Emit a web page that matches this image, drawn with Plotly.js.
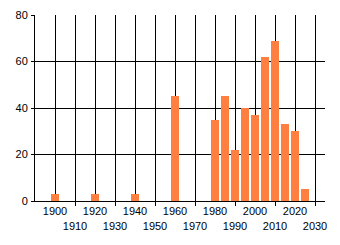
<!DOCTYPE html>
<html>
<head>
<meta charset="utf-8">
<script src="https://cdn.plot.ly/plotly-3.0.1.min.js"></script>
<style>html,body{margin:0;padding:0;background:#fff;}#chart{width:340px;height:245px;}</style>
</head>
<body>
<div id="chart"></div>
<script>
const years = [1900, 1920, 1940, 1960, 1980, 1985, 1990, 1995, 2000, 2005, 2010, 2015, 2020, 2025];
const values = [3, 3, 3, 45, 35, 45, 22, 40, 37, 62, 69, 33, 30, 5];
const upperTicks = [1900, 1920, 1940, 1960, 1980, 2000, 2020];
const lowerTicks = [1910, 1930, 1950, 1970, 1990, 2010, 2030];
const gridTicks = upperTicks.concat(lowerTicks).sort((a, b) => a - b);
const yTicks = [0, 20, 40, 60, 80];

const font = {family: 'Liberation Sans, Arial, sans-serif', size: 11, color: '#000'};

const data = [
  {type: 'bar', x: years, y: values, width: 4, marker: {color: '#ff7f40', line: {width: 0}}, hoverinfo: 'x+y'},
  {type: 'scatter', mode: 'markers', x: [lowerTicks[0]], y: [0], xaxis: 'x2', yaxis: 'y', marker: {opacity: 0}, hoverinfo: 'skip', showlegend: false}
];

const layout = {
  width: 340, height: 245,
  margin: {l: 35, r: 15, t: 15, b: 44},
  paper_bgcolor: '#fff', plot_bgcolor: '#fff',
  showlegend: false,
  font: font,
  bargap: 0,
  xaxis: {
    range: [1890, 2035], tickmode: 'array', tickvals: gridTicks,
    ticktext: gridTicks.map(v => upperTicks.includes(v) ? String(v) : ''),
    showgrid: true, gridcolor: '#000', gridwidth: 1,
    showline: true, linecolor: '#000', linewidth: 1,
    ticks: '', zeroline: false, tickfont: font, ticklabelstandoff: 0
  },
  xaxis2: {
    overlaying: 'x', matches: 'x', anchor: 'y', side: 'bottom',
    tickmode: 'array', tickvals: lowerTicks, ticktext: lowerTicks.map(String),
    showgrid: false, showline: false, zeroline: false,
    ticks: 'outside', ticklen: 4, tickcolor: '#000', tickwidth: 1,
    tickfont: font, ticklabelstandoff: 11
  },
  yaxis: {
    range: [0, 80], tickmode: 'array', tickvals: yTicks,
    showgrid: true, gridcolor: '#000', gridwidth: 1,
    showline: true, linecolor: '#000', linewidth: 1,
    ticks: 'outside', ticklen: 3, tickcolor: '#000',
    zeroline: false, tickfont: font, ticklabelstandoff: 1
  }
};

Plotly.newPlot('chart', data, layout, {displayModeBar: false, staticPlot: true});
</script>
</body>
</html>
